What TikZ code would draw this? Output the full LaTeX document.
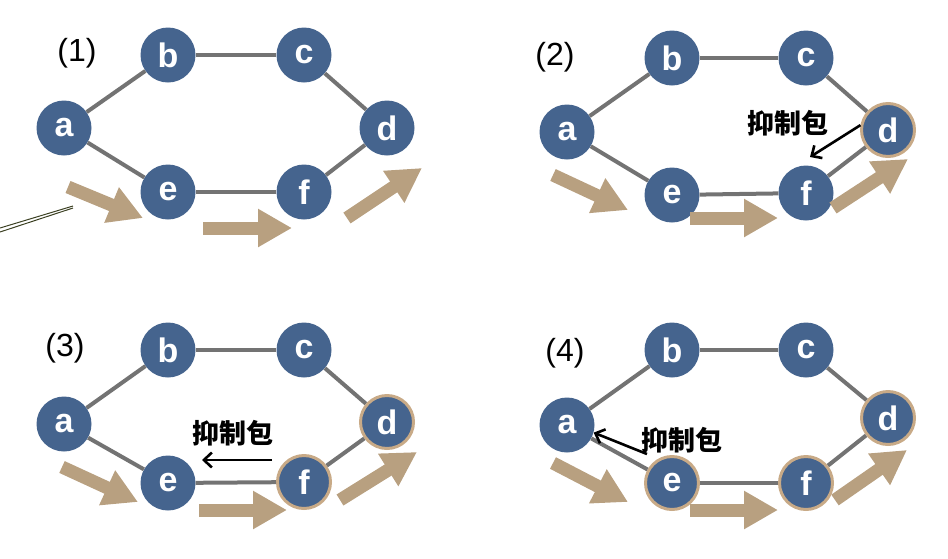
\documentclass[tikz,border=0pt]{standalone}
\usepackage{fontspec}
\setmainfont{Liberation Sans}
\newfontfamily\cjk{Noto Sans CJK SC}
\usetikzlibrary{arrows.meta}
\definecolor{nodeblue}{RGB}{69,100,142}
\definecolor{edgegray}{RGB}{115,115,115}
\definecolor{flowtan}{RGB}{184,160,128}
\definecolor{ringtan}{RGB}{200,170,135}
\definecolor{olive}{RGB}{60,65,35}
\tikzset{
  nd/.style={circle, fill=nodeblue, minimum size=55pt, inner sep=0pt, text=white,
    font=\fontsize{34}{34}\selectfont\bfseries},
  ring/.style={draw=ringtan, line width=3pt, minimum size=53pt},
  edge/.style={draw=edgegray, line width=4pt},
  flow/.style={draw=flowtan, line width=13pt, -{Triangle[width=36pt,length=34pt]}},
  inhib/.style={draw=black, line width=2.6pt, -{Straight Barb[length=8pt,width=15pt,line width=2.6pt]}},
  plabel/.style={font=\fontsize{32}{32}\selectfont},
  cjklabel/.style={font=\cjk\fontsize{27}{27}\selectfont\bfseries, inner sep=0pt}
}
\begin{document}
\begin{tikzpicture}[x=1pt,y=-1pt]
\useasboundingbox (0,0) rectangle (948,558);

% ---------- Panel 1 ----------
\node[plabel] (L1) at (77,53) {(1)};
\node[nd] (a1) at (64,128) {a};
\node[nd] (b1) at (168,55) {b};
\node[nd] (c1) at (304,55) {c};
\node[nd] (d1) at (387,128) {d};
\node[nd] (e1) at (168,192) {e};
\node[nd] (f1) at (304,192) {f};
\draw[edge] (a1) -- (b1); \draw[edge] (b1) -- (c1); \draw[edge] (c1) -- (d1);
\draw[edge] (d1) -- (f1); \draw[edge] (f1) -- (e1); \draw[edge] (e1) -- (a1);
\coordinate (p1s) at (68,187);  \coordinate (p1t) at (143,218);
\coordinate (q1s) at (203,228); \coordinate (q1t) at (292,228);
\coordinate (r1s) at (347,218); \coordinate (r1t) at (422,168);
\draw[flow] (p1s) -- (p1t);
\draw[flow] (q1s) -- (q1t);
\draw[flow] (r1s) -- (r1t);
\coordinate (o1) at (0,228); \coordinate (o2) at (73,206);
\coordinate (o3) at (0,232); \coordinate (o4) at (73,208);
\draw[olive, line width=1pt] (o1) -- (o2);
\draw[olive, line width=1pt] (o3) -- (o4);

% ---------- Panel 2 ----------
\node[plabel] (L2) at (555,57) {(2)};
\node[nd] (a2) at (567,132) {a};
\node[nd] (b2) at (672,58) {b};
\node[nd] (c2) at (806,58) {c};
\node[nd,ring] (d2) at (888,130) {d};
\node[nd] (e2) at (672,195) {e};
\node[nd] (f2) at (806,193) {f};
\draw[edge] (a2) -- (b2); \draw[edge] (b2) -- (c2); \draw[edge] (c2) -- (d2);
\draw[edge] (d2) -- (f2); \draw[edge] (f2) -- (e2); \draw[edge] (e2) -- (a2);
\node[cjklabel] (k2) at (788,123) {抑制包};
\coordinate (t2) at (810,157);
\draw[inhib] (d2.170) -- (t2);
\coordinate (p2s) at (553,175); \coordinate (p2t) at (628,210);
\coordinate (q2s) at (690,218); \coordinate (q2t) at (778,218);
\coordinate (r2s) at (833,208); \coordinate (r2t) at (908,159);
\draw[flow] (p2s) -- (p2t);
\draw[flow] (q2s) -- (q2t);
\draw[flow] (r2s) -- (r2t);

% ---------- Panel 3 ----------
\node[plabel] (L3) at (65,348) {(3)};
\node[nd] (a3) at (64,424) {a};
\node[nd] (b3) at (168,350) {b};
\node[nd] (c3) at (304,350) {c};
\node[nd,ring] (d3) at (387,422) {d};
\node[nd] (e3) at (168,483) {e};
\node[nd,ring] (f3) at (304,482) {f};
\draw[edge] (a3) -- (b3); \draw[edge] (b3) -- (c3); \draw[edge] (c3) -- (d3);
\draw[edge] (d3) -- (f3); \draw[edge] (f3) -- (e3); \draw[edge] (e3) -- (a3);
\node[cjklabel] (k3) at (233,433) {抑制包};
\coordinate (s3) at (272,460); \coordinate (t3) at (202,460);
\draw[inhib] (s3) -- (t3);
\coordinate (p3s) at (62,467);  \coordinate (p3t) at (138,502);
\coordinate (q3s) at (199,510); \coordinate (q3t) at (287,510);
\coordinate (r3s) at (340,500); \coordinate (r3t) at (417,452);
\draw[flow] (p3s) -- (p3t);
\draw[flow] (q3s) -- (q3t);
\draw[flow] (r3s) -- (r3t);

% ---------- Panel 4 ----------
\node[plabel] (L4) at (565,353) {(4)};
\node[nd] (a4) at (567,425) {a};
\node[nd] (b4) at (672,350) {b};
\node[nd] (c4) at (806,350) {c};
\node[nd,ring] (d4) at (888,418) {d};
\node[nd,ring] (e4) at (672,483) {e};
\node[nd,ring] (f4) at (806,483) {f};
\draw[edge] (a4) -- (b4); \draw[edge] (b4) -- (c4); \draw[edge] (c4) -- (d4);
\draw[edge] (d4) -- (f4); \draw[edge] (f4) -- (e4); \draw[edge] (e4) -- (a4);
\node[cjklabel] (k4) at (682,440) {抑制包};
\coordinate (s4) at (647,454);
\draw[inhib] (s4) -- (a4.-16);
\coordinate (p4s) at (553,463); \coordinate (p4t) at (628,502);
\coordinate (q4s) at (690,510); \coordinate (q4t) at (778,510);
\coordinate (r4s) at (835,500); \coordinate (r4t) at (907,450);
\draw[flow] (p4s) -- (p4t);
\draw[flow] (q4s) -- (q4t);
\draw[flow] (r4s) -- (r4t);
\end{tikzpicture}
\end{document}
